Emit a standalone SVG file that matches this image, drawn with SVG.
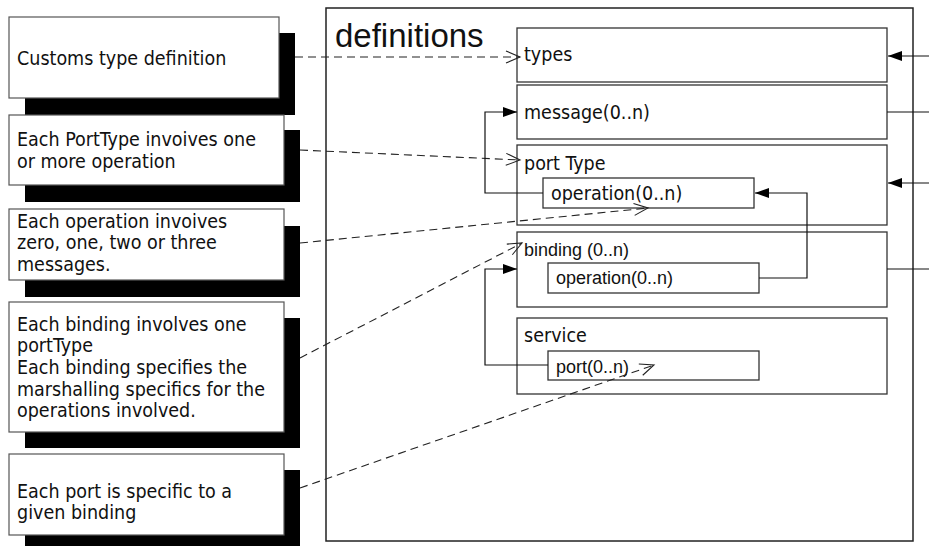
<svg xmlns="http://www.w3.org/2000/svg" width="929" height="546" viewBox="0 0 929 546">
  <style>
    .note { fill: #ffffff; stroke: #555555; stroke-width: 1.2; }
    .shadow { fill: #000000; }
    .gothic { font-family: "DejaVu Sans Condensed", "DejaVu Sans", sans-serif; font-stretch: condensed; font-size: 19.5px; fill: #111111; }
    .arial { font-family: "Liberation Sans", Arial, sans-serif; font-size: 18px; fill: #111111; }
    .title { font-family: "Liberation Sans", Arial, sans-serif; font-size: 33px; fill: #111111; }
    .frame { fill: #ffffff; stroke: #222222; stroke-width: 1.5; }
    .part { fill: #ffffff; stroke: #333333; stroke-width: 1.3; }
    .dash { fill: none; stroke: #222222; stroke-width: 1.1; stroke-dasharray: 8 5; }
    .wire { fill: none; stroke: #111111; stroke-width: 1.2; }
  </style>
  <defs>
    <marker id="open" markerUnits="userSpaceOnUse" markerWidth="16" markerHeight="14" refX="14" refY="6" orient="auto" overflow="visible">
      <path d="M0,0 L14,6 L0,12" fill="none" stroke="#222222" stroke-width="1.1"/>
    </marker>
    <marker id="solid" markerUnits="userSpaceOnUse" markerWidth="16" markerHeight="12" refX="14" refY="5" orient="auto" overflow="visible">
      <path d="M0,0 L14,5 L0,10 z" fill="#000000"/>
    </marker>
  </defs>

  <rect width="929" height="546" fill="#ffffff"/>

  <!-- explanatory notes with drop shadows -->
  <g id="note-types">
    <rect class="shadow" x="25" y="33" width="270" height="82"/>
    <rect class="note" x="9" y="17" width="270" height="81"/>
    <text class="gothic" x="17" y="65">Customs type definition</text>
  </g>
  <g id="note-porttype">
    <rect class="shadow" x="25" y="130" width="275" height="72"/>
    <rect class="note" x="9" y="115" width="275" height="70"/>
    <text class="gothic" x="17" y="146">Each PortType invoives one</text>
    <text class="gothic" x="17" y="168">or more operation</text>
  </g>
  <g id="note-operation">
    <rect class="shadow" x="25" y="226" width="275" height="71"/>
    <rect class="note" x="9" y="209" width="275" height="71"/>
    <text class="gothic" x="17" y="228">Each operation invoives</text>
    <text class="gothic" x="17" y="249">zero, one, two or three</text>
    <text class="gothic" x="17" y="271">messages.</text>
  </g>
  <g id="note-binding">
    <rect class="shadow" x="25" y="318" width="275" height="130"/>
    <rect class="note" x="9" y="302" width="275" height="130"/>
    <text class="gothic" x="17" y="331">Each binding involves one</text>
    <text class="gothic" x="17" y="352">portType</text>
    <text class="gothic" x="17" y="374">Each binding specifies the</text>
    <text class="gothic" x="17" y="396">marshalling specifics for the</text>
    <text class="gothic" x="17" y="417">operations involved.</text>
  </g>
  <g id="note-port">
    <rect class="shadow" x="25" y="470" width="275" height="82"/>
    <rect class="note" x="9" y="454" width="275" height="81"/>
    <text class="gothic" x="17" y="498">Each port is specific to a</text>
    <text class="gothic" x="17" y="519">given binding</text>
  </g>

  <!-- definitions container -->
  <g id="definitions">
    <rect class="frame" x="326" y="8" width="587" height="533"/>
    <text class="title" x="335" y="47">definitions</text>
  </g>

  <g id="types">
    <rect class="part" x="517" y="28" width="370" height="54"/>
    <text class="gothic" x="524" y="61">types</text>
  </g>
  <g id="message">
    <rect class="part" x="517" y="85" width="370" height="54"/>
    <text class="gothic" x="524" y="119">message(0..n)</text>
  </g>
  <g id="porttype">
    <rect class="part" x="517" y="145" width="370" height="80"/>
    <text class="gothic" x="524" y="170">port Type</text>
  </g>
  <g id="porttype-operation">
    <rect class="part" x="543" y="178" width="211" height="30"/>
    <text class="gothic" x="551" y="200">operation(0..n)</text>
  </g>
  <g id="binding">
    <rect class="part" x="517" y="232" width="370" height="75"/>
    <text class="arial" x="524" y="256">binding (0..n)</text>
  </g>
  <g id="binding-operation">
    <rect class="part" x="548" y="263" width="211" height="30"/>
    <text class="arial" x="556" y="284">operation(0..n)</text>
  </g>
  <g id="service">
    <rect class="part" x="517" y="318" width="370" height="76"/>
    <text class="gothic" x="524" y="342">service</text>
  </g>
  <g id="port">
    <rect class="part" x="548" y="351" width="211" height="29"/>
    <text class="arial" x="556" y="373">port(0..n)</text>
  </g>

  <!-- connectors -->
  <g id="connectors">
    <!-- notes pointing at the parts they describe -->
    <line class="dash" x1="295" y1="57" x2="520" y2="57" marker-end="url(#open)"/>
    <line class="dash" x1="300" y1="150" x2="520" y2="160" marker-end="url(#open)"/>
    <line class="dash" x1="300" y1="243" x2="648" y2="208" marker-end="url(#open)"/>
    <line class="dash" x1="300" y1="358" x2="522" y2="243" marker-end="url(#open)"/>
    <line class="dash" x1="300" y1="488" x2="654" y2="365" marker-end="url(#open)"/>

    <!-- references between parts -->
    <polyline class="wire" points="543,193 485,193 485,112 517,112" marker-end="url(#solid)"/>
    <polyline class="wire" points="548,365 485,365 485,269 517,269" marker-end="url(#solid)"/>
    <polyline class="wire" points="759,278 807,278 807,193 755,193" marker-end="url(#solid)"/>

    <!-- links leaving the container on the right -->
    <line class="wire" x1="929" y1="56" x2="888" y2="56" marker-end="url(#solid)"/>
    <line class="wire" x1="887" y1="112" x2="929" y2="112"/>
    <line class="wire" x1="929" y1="183" x2="888" y2="183" marker-end="url(#solid)"/>
    <line class="wire" x1="887" y1="269" x2="929" y2="269"/>
  </g>
</svg>
